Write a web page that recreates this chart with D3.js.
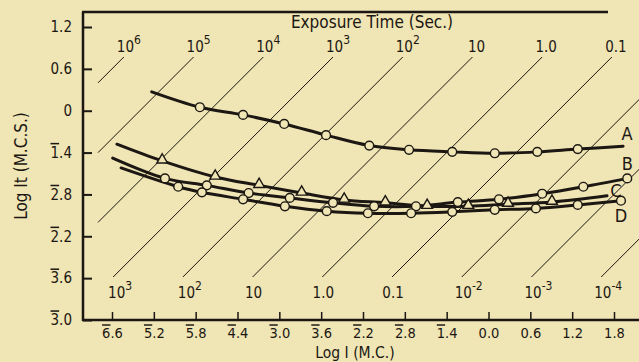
<!DOCTYPE html>
<html><head><meta charset="utf-8">
<script src="https://cdn.jsdelivr.net/npm/d3@7"></script>
<style>
html,body{margin:0;padding:0;background:#efe5b5;}
svg{display:block;}
text{font-family:"Liberation Sans Narrow","DejaVu Sans Condensed","Liberation Sans",Arial,sans-serif;fill:#1c1712;}
</style></head>
<body><svg id="c" width="639" height="362"></svg>
<script>
// ---- data ----
const xTickValues = [-5.4,-4.8,-4.2,-3.6,-3.0,-2.4,-1.8,-1.2,-0.6,0.0,0.6,1.2,1.8];
const xTickLabels = ["6\u0305.6","5\u0305.2","5\u0305.8","4\u0305.4","3\u0305.0","3\u0305.6","2\u0305.2","2\u0305.8","1\u0305.4","0.0","0.6","1.2","1.8"];
const yTickValues = [1.2,0.6,0,-0.6,-1.2,-1.8,-2.4,-3.0];
const yTickLabels = ["1.2","0.6","0","1\u0305.4","2\u0305.8","2\u0305.2","3\u0305.6","3\u0305.0"];

const exposureLogT = [6,5,4,3,2,1,0,-1,-2,-3,-4];
const topLabelLogT = [6,5,4,3,2,1,0,-1];
const topLabelBase = ["10","10","10","10","10","10","1.0","0.1"];
const topLabelSup  = ["6","5","4","3","2","","",""];
const bottomLabelLogT = [3,2,1,0,-1,-2,-3,-4];
const bottomLabelBase = ["10","10","10","1.0","0.1","10","10","10"];
const bottomLabelSup  = ["3","2","","","","-2","-3","-4"];

const curveNames = ["A","B","C","D"];
const A_x = [-4.83,-4.14,-3.52,-2.93,-2.33,-1.71,-1.14,-0.52,0.09,0.70,1.28,1.93];
const A_y = [0.27,0.05,-0.06,-0.19,-0.35,-0.50,-0.56,-0.59,-0.61,-0.59,-0.55,-0.51];
const A_mark = [0,1,1,1,1,1,1,1,1,1,1,0];
const B_x = [-5.39,-4.64,-4.04,-3.44,-2.85,-2.23,-1.64,-1.04,-0.44,0.15,0.77,1.36,1.99];
const B_y = [-0.68,-0.97,-1.07,-1.18,-1.25,-1.32,-1.37,-1.37,-1.31,-1.27,-1.19,-1.09,-0.97];
const B_mark = [0,1,1,1,1,1,1,1,1,1,1,1,1];
const C_x = [-5.33,-4.68,-3.92,-3.29,-2.68,-2.07,-1.48,-0.88,-0.29,0.28,0.91,1.70];
const C_y = [-0.48,-0.72,-0.95,-1.07,-1.18,-1.28,-1.32,-1.37,-1.37,-1.34,-1.31,-1.22];
const C_mark = [0,1,1,1,1,1,1,1,1,1,1,0];
const D_x = [-5.27,-4.45,-4.11,-3.52,-2.92,-2.32,-1.73,-1.11,-0.52,0.09,0.68,1.28,1.90];
const D_y = [-0.82,-1.09,-1.17,-1.27,-1.37,-1.44,-1.47,-1.47,-1.45,-1.42,-1.40,-1.35,-1.29];
const D_mark = [0,1,1,1,1,1,1,1,1,1,1,1,1];
const markerShape = {A:"circle",B:"circle",C:"triangle",D:"circle"};

// ---- layout ----
const ink = "#1c1712", bg = "#efe5b5";
const svg = d3.select("#c");
svg.append("rect").attr("width",639).attr("height",362).attr("fill",bg);
const x = d3.scaleLinear().domain([-5.4,1.8]).range([112,614]);
const y = d3.scaleLinear().domain([-3.0,1.2]).range([320,27]);
const L=83, T=12, B=320;

function richText(sel, str){
  // characters followed by U+0305 get an overline
  sel.text(null);
  const chars = Array.from(str);
  for(let i=0;i<chars.length;i++){
    const c = chars[i];
    if(c==="\u0305") continue;
    const over = chars[i+1]==="\u0305";
    const t = sel.append("tspan").text(c);
    if(over) t.style("text-decoration","overline");
  }
}

// diagonal constant-exposure lines
const diagTop = y.invert(57), diagBot = y.invert(277), diagLeft = x.invert(98), diagRight = x.invert(640);
const gd = svg.append("g");
exposureLogT.forEach(lt=>{
  const x0 = Math.max(diagLeft, diagBot - lt);
  const x1 = Math.min(diagRight, diagTop - lt);
  if(x1<=x0) return;
  gd.append("line").attr("x1",x(x0)).attr("y1",y(x0+lt)).attr("x2",x(x1)).attr("y2",y(x1+lt))
    .attr("stroke",ink).attr("stroke-width",1);
});
function expLabel(px, py, base, sup){
  const t = svg.append("text").attr("x",px).attr("y",py).attr("text-anchor","middle").style("font-size","15px");
  t.append("tspan").text(base);
  if(sup) t.append("tspan").attr("dy",-8).style("font-size","12px").text(sup);
}
topLabelLogT.forEach((lt,i)=>{
  const xe = x(diagTop - lt);
  expLabel(xe + (topLabelSup[i]?5:4), 52, topLabelBase[i], topLabelSup[i]);
});
bottomLabelLogT.forEach((lt,i)=>{
  const xe = x(diagBot - lt);
  expLabel(xe + (bottomLabelSup[i]?7:1), 298, bottomLabelBase[i], bottomLabelSup[i]);
});

// axes
const xAxis = d3.axisBottom(x).tickValues(xTickValues).tickSize(-8).tickSizeOuter(0).tickPadding(8)
  .tickFormat((d,i)=>xTickLabels[i]);
const gx = svg.append("g").attr("transform",`translate(0,${B})`).call(xAxis);
gx.select(".domain").remove();
gx.selectAll(".tick line").attr("stroke",ink).attr("stroke-width",1.5);
gx.selectAll(".tick text").style("font-size","14.5px").attr("fill",ink).style("font-family",null)
  .each(function(d,i){ richText(d3.select(this), xTickLabels[i]); });

const yAxis = d3.axisLeft(y).tickValues(yTickValues).tickSize(-9).tickSizeOuter(0).tickPadding(11)
  .tickFormat((d,i)=>yTickLabels[i]);
const gy = svg.append("g").attr("transform",`translate(${L},0)`).call(yAxis);
gy.select(".domain").remove();
gy.selectAll(".tick line").attr("stroke",ink).attr("stroke-width",2);
gy.selectAll(".tick text").style("font-size","15px").attr("fill",ink).style("font-family",null)
  .each(function(d,i){ richText(d3.select(this), yTickLabels[i]); });

// frame
svg.append("line").attr("x1",L).attr("y1",T).attr("x2",L).attr("y2",B+1).attr("stroke",ink).attr("stroke-width",2.5);
svg.append("line").attr("x1",L-1).attr("y1",T).attr("x2",608).attr("y2",T).attr("stroke",ink).attr("stroke-width",2.5);
svg.append("line").attr("x1",L-1).attr("y1",B).attr("x2",639).attr("y2",B).attr("stroke",ink).attr("stroke-width",2.5);

// titles
svg.append("text").attr("x",372).attr("y",28).attr("text-anchor","middle").style("font-size","17px").text("Exposure Time (Sec.)");
svg.append("text").attr("x",355).attr("y",357.5).attr("text-anchor","middle").style("font-size","15.5px").text("Log I (M.C.)");
svg.append("text").attr("transform","translate(27,166) rotate(-90)").attr("text-anchor","middle").style("font-size","17px").text("Log It (M.C.S.)");

// curves
const curves = {A:[A_x,A_y,A_mark],B:[B_x,B_y,B_mark],C:[C_x,C_y,C_mark],D:[D_x,D_y,D_mark]};
const lineGen = d3.line().x(d=>x(d[0])).y(d=>y(d[1])).curve(d3.curveCatmullRom.alpha(0.5));
const gc = svg.append("g");
curveNames.forEach(n=>{
  const [xs,ys] = curves[n];
  gc.append("path").datum(xs.map((v,i)=>[v,ys[i]])).attr("d",lineGen)
    .attr("fill","none").attr("stroke",ink).attr("stroke-width",3).attr("stroke-linecap","round");
});
const tri = d3.symbol().type(d3.symbolTriangle).size(50);
curveNames.forEach(n=>{
  const [xs,ys,ms] = curves[n];
  xs.forEach((v,i)=>{
    if(!ms[i]) return;
    if(markerShape[n]==="circle"){
      gc.append("circle").attr("cx",x(v)).attr("cy",y(ys[i])).attr("r",4.4)
        .attr("fill",bg).attr("stroke",ink).attr("stroke-width",1.4);
    } else {
      gc.append("path").attr("d",tri).attr("transform",`translate(${x(v)},${y(ys[i])-1})`)
        .attr("fill",bg).attr("stroke",ink).attr("stroke-width",1.4);
    }
  });
});
// curve labels near curve ends
const labelOffsets = {A:[4,-6],B:[0,-8],C:[9,1],D:[0,21]};
curveNames.forEach(n=>{
  const [xs,ys] = curves[n];
  const k = xs.length-1;
  svg.append("text").attr("x",x(xs[k])+labelOffsets[n][0]).attr("y",y(ys[k])+labelOffsets[n][1])
    .attr("text-anchor","middle").style("font-size","18px").text(n);
});
</script></body></html>
